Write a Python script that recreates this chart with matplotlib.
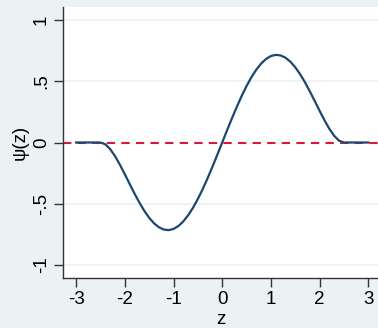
import numpy as np
import matplotlib as mpl
mpl.use('Agg')
import matplotlib.pyplot as plt

# psi(z), z from -3 to 3 in steps of 0.1
z = [round(-3 + 0.1 * k, 1) for k in range(61)]
psi_pos = [0.0, 0.0997, 0.1974, 0.2914, 0.3798, 0.4608, 0.5329, 0.5945,
           0.6446, 0.6818, 0.7056, 0.7153, 0.7107, 0.6920, 0.6596, 0.6144,
           0.5577, 0.4913, 0.4175, 0.3390, 0.2592, 0.1820, 0.1120, 0.0543,
           0.0148, 0.0, 0.0, 0.0, 0.0, 0.0, 0.0]
psi = [-v for v in psi_pos[:0:-1]] + psi_pos

yticks = [-1, -0.5, 0, 0.5, 1]
ylabels = ['-1', '-.5', '0', '.5', '1']
xticks = [-3, -2, -1, 0, 1, 2, 3]

bg = '#eaf2f3'
plt.rcParams['font.family'] = ['Liberation Sans', 'DejaVu Sans']

fig = plt.figure(figsize=(3.78, 3.28), dpi=100, facecolor=bg)
ax = fig.add_axes([63 / 378, 1 - 278 / 328, 315 / 378, 271 / 328])
ax.set_facecolor('white')

for y in yticks:
    if y != 0:
        ax.axhline(y, color=bg, lw=1.2, zorder=0)
ax.axhline(0, color='#d7193f', lw=1.5, ls=(0, (4, 3)), zorder=1)
ax.plot(z, psi, color='#1a476f', lw=1.6, zorder=2)

ax.set_xlim(-3.27, 3.2)
ax.set_ylim(-1.106, 1.106)
ax.set_xticks(xticks)
ax.set_xticklabels([str(t) for t in xticks])
ax.set_yticks(yticks)
ax.set_yticklabels(ylabels, rotation=90, va='center')

for s in ['top', 'right']:
    ax.spines[s].set_visible(False)
for s in ['left', 'bottom']:
    ax.spines[s].set_color('#333333')
    ax.spines[s].set_linewidth(1.0)
ax.tick_params(direction='out', length=6.5, width=1, color='#333333',
               labelsize=13.5, pad=3)

ax.set_xlabel('z', fontsize=13.5, labelpad=2)
ax.set_ylabel('ψ(z)', fontsize=13.5, labelpad=3)

fig.savefig('out.png', dpi=100, facecolor=bg)
